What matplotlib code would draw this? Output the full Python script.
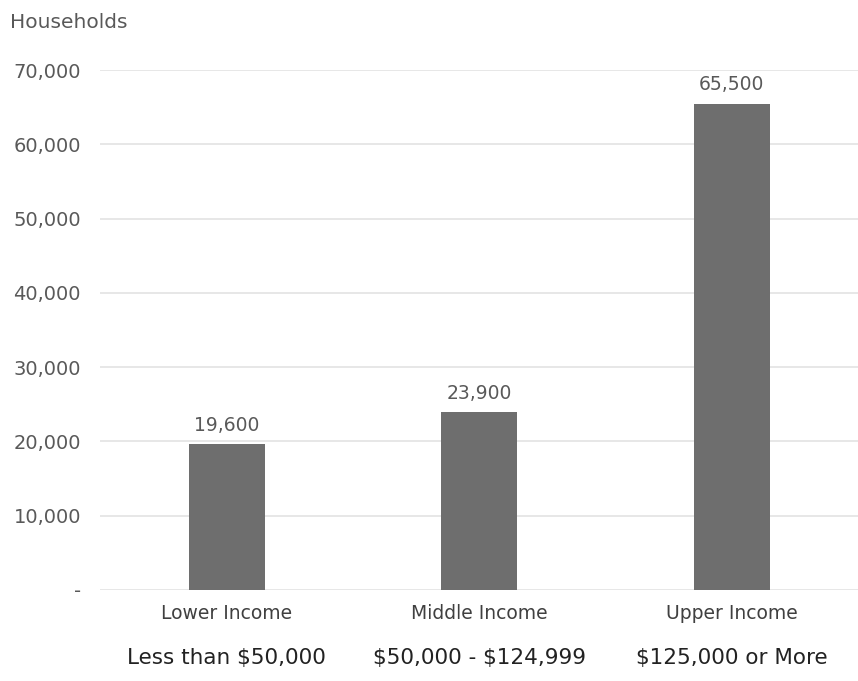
import matplotlib
matplotlib.use("Agg")
import matplotlib.pyplot as plt
from matplotlib.ticker import FuncFormatter

plt.rcParams['font.family'] = ['DejaVu Sans']

categories = ["Lower Income", "Middle Income", "Upper Income"]
ranges = ["Less than \\$50,000", "\\$50,000 - \\$124,999", "\\$125,000 or More"]
households = [19600, 23900, 65500]
yticks = [0, 10000, 20000, 30000, 40000, 50000, 60000, 70000]

fig = plt.figure(figsize=(8.58, 6.81), dpi=100)
ax = fig.add_axes([0.117, 0.134, 0.883, 0.763])

x = list(range(len(categories)))
ax.bar(x, households, width=0.3, color="#6e6e6e", zorder=3)
for xi, v in zip(x, households):
    ax.text(xi, v + 1300, f"{v:,}", ha="center", va="bottom",
            fontsize=13.5, color="#595959", zorder=4)

ax.set_xlim(-0.5, 2.5)
ax.set_ylim(0, 70000)
ax.set_yticks(yticks)
ax.yaxis.set_major_formatter(FuncFormatter(lambda v, p: "-" if v == 0 else f"{int(v):,}"))
ax.tick_params(axis="y", length=0, pad=14, labelsize=14, labelcolor="#595959")
ax.set_xticks([])
ax.grid(axis="y", color="#e3e3e3", linewidth=1.2, zorder=0)
for s in ax.spines.values():
    s.set_visible(False)

for xi, c, r in zip(x, categories, ranges):
    ax.annotate(c, xy=(xi, 0), xycoords=("data", "axes fraction"),
                xytext=(0, -10), textcoords="offset points",
                ha="center", va="top", fontsize=13.5, color="#404040")
    ax.annotate(r, xy=(xi, 0), xycoords=("data", "axes fraction"),
                xytext=(0, -42), textcoords="offset points",
                ha="center", va="top", fontsize=15.5, color="#222222")

fig.text(0.012, 0.967, "Households", ha="left", va="center",
         fontsize=14.5, color="#595959")

fig.savefig("out.png", dpi=100, facecolor="white")
